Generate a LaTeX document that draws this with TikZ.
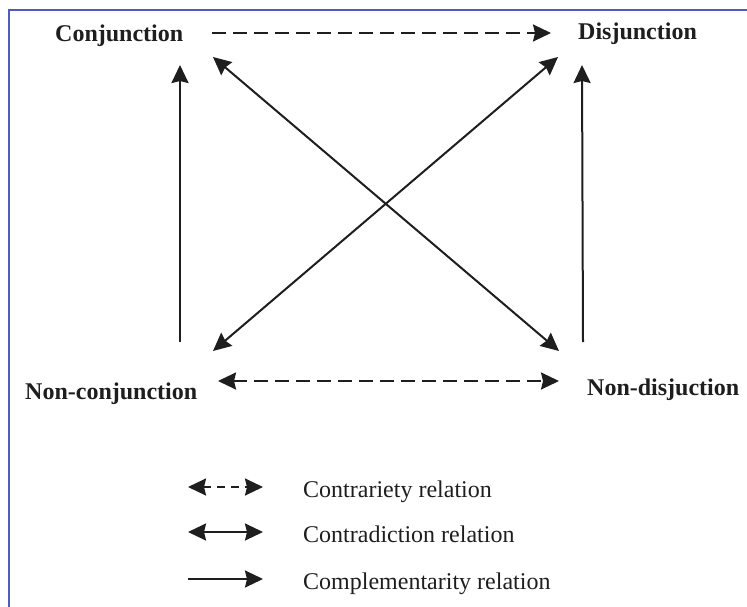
\documentclass[tikz,border=0pt]{standalone}
\usepackage{fontspec}
\setmainfont{Liberation Serif}
\usetikzlibrary{arrows.meta}
\definecolor{frameblue}{RGB}{82,90,186}
\definecolor{ink}{RGB}{30,30,30}
\tikzset{tip/.tip={Stealth[length=18bp,width=17bp,inset=2bp]},
    rel/.style={ink,line width=2bp,-tip},
    relboth/.style={ink,line width=2bp,tip-tip},
    contrary/.style={dash pattern=on 14bp off 7bp},
    keycontrary/.style={relboth,dash pattern=on 8bp off 6bp},
    term/.style={text=ink,font=\fontsize{24bp}{28bp}\selectfont\bfseries,inner sep=0pt,anchor=base west},
    legtext/.style={text=ink,font=\fontsize{24bp}{28bp}\selectfont,inner sep=0pt,anchor=base west}}

\begin{document}
\begin{tikzpicture}[x=1bp,y=-1bp]
    \useasboundingbox (0,0) rectangle (747,607);
    \draw[frameblue,line width=2bp] (9,607) -- (9,10) -- (747,10);
    % the four terms
    \node[term] (conj) at (55,42) {Conjunction};
    \node[term] (disj) at (578,40) {Disjunction};
    \node[term] (nconj) at (25,399) {Non-conjunction};
    \node[term] (ndisj) at (587,395) {Non-disjuction};
    % arrow ends round the terms
    \coordinate (conj-e) at (212,33);
    \coordinate (conj-se) at (213,57);
    \coordinate (conj-s) at (180,65);
    \coordinate (disj-w) at (551,33);
    \coordinate (disj-sw) at (558,57);
    \coordinate (disj-s) at (582,65);
    \coordinate (nconj-n) at (180,342);
    \coordinate (nconj-ne) at (213,351);
    \coordinate (nconj-e) at (218,381);
    \coordinate (ndisj-n) at (583,342);
    \coordinate (ndisj-nw) at (559,351);
    \coordinate (ndisj-w) at (559,381);
    \draw[rel,contrary] (conj-e) -- (disj-w);
    \draw[relboth,contrary] (nconj-e) -- (ndisj-w);
    \draw[rel] (nconj-n) -- (conj-s);
    \draw[rel] (ndisj-n) -- (disj-s);
    \draw[relboth] (conj-se) -- (ndisj-nw);
    \draw[relboth] (disj-sw) -- (nconj-ne);
    % legend
    \foreach \y/\s/\t [count=\i] in {487/keycontrary/Contrariety relation,
        532/relboth/Contradiction relation,579/rel/Complementarity relation} {
      \coordinate (key\i a) at (188,\y);
      \coordinate (key\i b) at (263,\y);
      \draw[\s] (key\i a) -- (key\i b);
      \node[legtext] (keytext\i) at (303,\y+10) {\t};
    }
\end{tikzpicture}
\end{document}
